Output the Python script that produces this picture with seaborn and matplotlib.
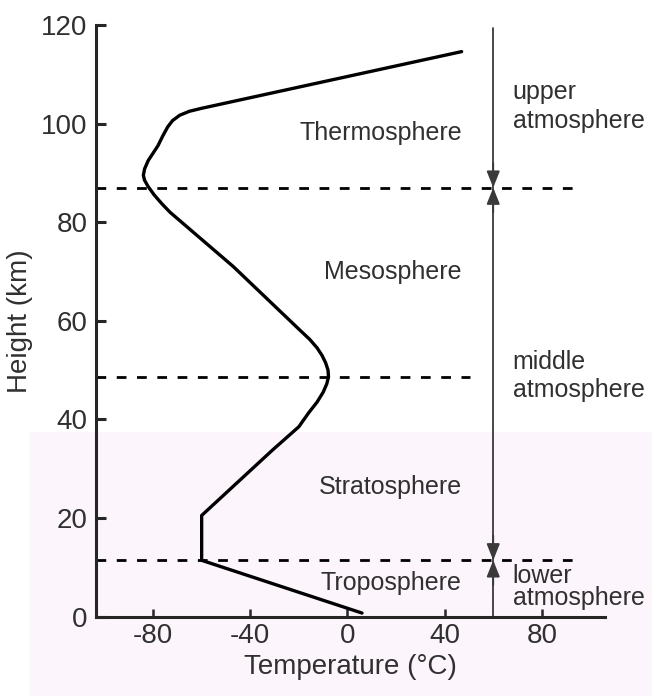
import matplotlib
matplotlib.use("Agg")
import matplotlib.pyplot as plt
import seaborn as sns
import pandas as pd
from matplotlib.patches import Rectangle

# temperature profile (deg C vs km)
temperature = [6, -60, -60, -31, -20, -16, -12.5, -10, -8.5, -7.8, -8.0, -9, -10.5,
               -12.5, -15.5, -20, -47, -73, -76.5, -79.5, -82, -83.5, -84, -83.5,
               -82, -80, -78, -76, -74, -72, -69, -65, -60, 47]
height = [0.7, 11.4, 20.5, 33.7, 38.5, 41.3, 43.5, 45.5, 47.2, 48.6, 50, 51.5, 53,
          54.5, 56.2, 58.3, 71, 82, 83.8, 85.5, 87.2, 88.5, 89.5, 90.8,
          92.5, 94, 95.5, 97.5, 99.3, 100.6, 101.7, 102.5, 103.1, 114.6]

# layer boundaries (tropopause, stratopause, mesopause) and where the dashes stop
boundary_heights = [11.4, 48.6, 87.0]
boundary_ends = [92.7, 50.4, 92.7]

layer_names = ["Troposphere", "Stratosphere", "Mesosphere", "Thermosphere"]
layer_heights = [6.8, 26.3, 69.9, 98.1]

region_names = ["lower\natmosphere", "middle\natmosphere", "upper\natmosphere"]
region_heights = [6.0, 48.8, 103.5]

x_ticks = [-80, -40, 0, 40, 80]
y_ticks = [0, 20, 40, 60, 80, 100, 120]

sns.set_theme(style="ticks")
plt.rcParams["font.family"] = ["Liberation Sans", "DejaVu Sans"]
plt.rcParams["axes.unicode_minus"] = False

fig = plt.figure(figsize=(6.52, 6.96), dpi=100)
# faint tint over the lower part of the scan
fig.patches.append(Rectangle((30 / 652, 0), 1, 0.379, transform=fig.transFigure,
                             color="#fcf6fc", zorder=-1))
ax = fig.add_axes([0.1472, 0.1142, 0.7807, 0.8499])
ax.set_facecolor("none")

profile = pd.DataFrame({"temperature": temperature, "height": height})
sns.lineplot(data=profile, x="temperature", y="height", sort=False, estimator=None,
             color="black", lw=2.4, ax=ax)

x_left = -103.5
for h, end in zip(boundary_heights, boundary_ends):
    ax.plot([x_left, end], [h, h], color="black", lw=2.0, dashes=(3.5, 3.8),
            solid_capstyle="butt", clip_on=False)

# vertical divider with arrowheads at the region boundaries
arrow_x = 60
ink = "#3a3a3a"
ax.plot([arrow_x, arrow_x], [0, 119.4], color=ink, lw=1.3)
head = dict(arrowstyle="-|>,head_length=0.5,head_width=0.2", mutation_scale=20,
            color=ink, lw=1.3, shrinkA=0, shrinkB=0)
for h in [boundary_heights[0], boundary_heights[2]]:
    ax.annotate("", xy=(arrow_x, h), xytext=(arrow_x, h + 5), arrowprops=head)
    ax.annotate("", xy=(arrow_x, h), xytext=(arrow_x, h - 5), arrowprops=head)

text_color = "#303030"
for name, h in zip(layer_names, layer_heights):
    ax.text(47, h, name, ha="right", va="center", fontsize=18, color=text_color)

for name, h in zip(region_names, region_heights):
    spacing = 0.85 if name.startswith("lower") else 1.25
    ax.text(68, h, name, ha="left", va="center", fontsize=18, color=text_color,
            linespacing=spacing, clip_on=False)

ax.set_xlim(x_left, 106)
ax.set_ylim(0, 120)
ax.set_xticks(x_ticks)
ax.set_yticks(y_ticks)
ax.tick_params(axis="y", direction="in", length=7, width=2.2, labelsize=20,
               pad=6, labelcolor=text_color)
ax.tick_params(axis="x", direction="in", length=6, width=1.8, labelsize=20,
               pad=5, labelcolor=text_color)
for side in ["left", "bottom"]:
    ax.spines[side].set_linewidth(2.2)
sns.despine(ax=ax)

ax.set_xlabel("Temperature (°C)", fontsize=20, color=text_color, labelpad=3)
ax.set_ylabel("Height (km)", fontsize=20, color=text_color, labelpad=6)

fig.savefig("out.png", dpi=100)
